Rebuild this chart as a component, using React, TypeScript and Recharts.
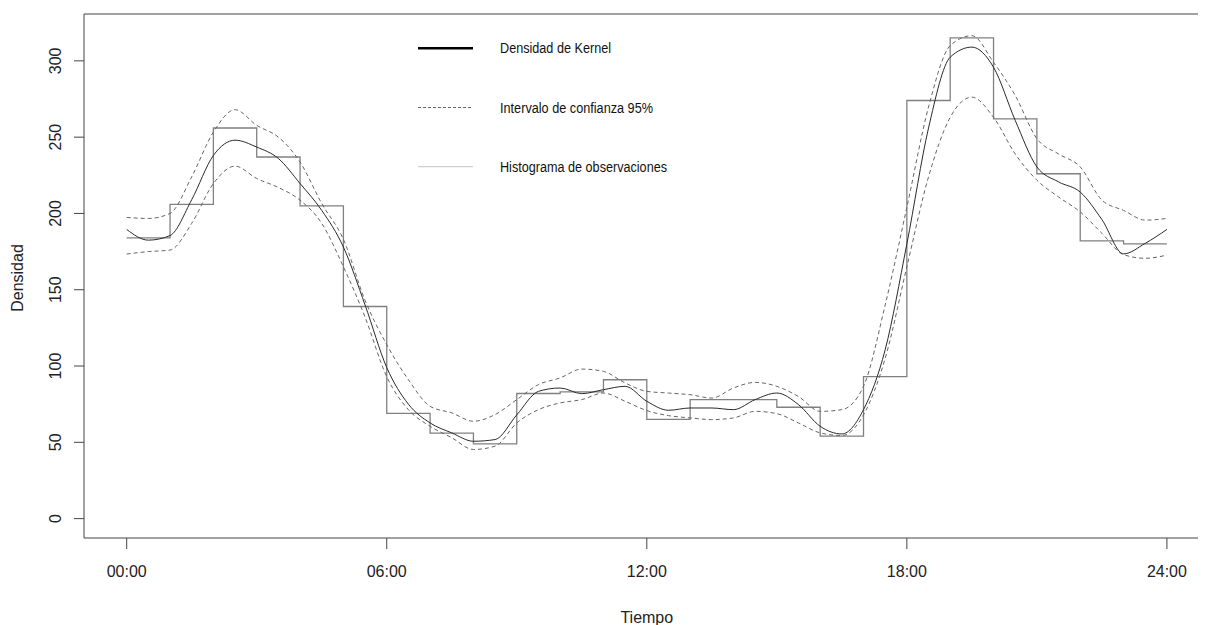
import { LineChart, Line, XAxis, YAxis, Label, ReferenceLine } from 'recharts';

// half-hour grid for the smoothed curves
const hours = [
  0, 0.5, 1, 1.5, 2, 2.5, 3, 3.5, 4, 4.5, 5, 5.5, 6, 6.5, 7, 7.5, 8, 8.5, 9, 9.5, 10, 10.5,
  11, 11.5, 12, 12.5, 13, 13.5, 14, 14.5, 15, 15.5, 16, 16.5, 17, 17.5, 18, 18.5, 19, 19.5,
  20, 20.5, 21, 21.5, 22, 22.5, 23, 23.5, 24,
];

const kernel = [
  189.5, 182.5, 185.5, 209, 238, 248, 243.5, 236, 219.6, 202, 178, 140, 99, 75, 62.7, 56.2,
  50.7, 51.8, 68, 83.4, 85.6, 81.9, 84.5, 86.7, 76.9, 71, 72.5, 72.5, 71.4, 78, 82.3, 74.7,
  60.5, 55.5, 71.4, 110.7, 180, 256, 302.4, 309, 295.8, 261, 230.5, 220.7, 214, 196, 173.5,
  180.4, 189.5,
];

const upper = [
  197.4, 196.7, 200, 224, 253.3, 268, 257.7, 250, 233.7, 206.5, 183, 143, 114, 91, 73.6, 69.3,
  63.8, 68.2, 78, 87.8, 92.2, 98, 96.5, 88.9, 83.4, 82.3, 81.2, 79, 85.6, 89.3, 86.7, 80, 70.3,
  71.4, 86.7, 140, 204, 269.7, 310, 316.5, 299, 277.3, 249, 239, 230.5, 208.7, 202, 195.6, 196.7,
];

const lower = [
  173.4, 175, 176, 193.5, 219.6, 231, 222.9, 217, 208.7, 193.5, 165, 132, 93, 71.4, 60.5, 53,
  45.3, 47.5, 62.7, 71.4, 75.8, 78, 82.3, 76.9, 70.8, 67.5, 66, 64.9, 66, 70.3, 68.8, 62.7, 56.2,
  54.5, 68, 105, 165, 224, 263, 276.2, 263, 239, 221.8, 210.8, 201, 187, 173, 170.6, 172.7,
];

// hourly histogram bins
const binStarts = [0, 1, 2, 3, 4, 5, 6, 7, 8, 9, 10, 11, 12, 13, 14, 15, 16, 17, 18, 19, 20, 21, 22, 23];
const binValues = [184, 206, 256, 237, 205, 139, 69, 56, 49, 82, 83, 91, 65, 78, 78, 73, 54, 93, 274, 315, 262, 226, 182, 180];

const xTicks = [0, 6, 12, 18, 24];
const yTicks = [0, 50, 100, 150, 200, 250, 300];
const xDomain = [-0.985, 24.985];
const yDomain = [-12.7, 330.7];

const legendItems = [
  { label: 'Densidad de Kernel', color: '#000', width: 2.5, dash: undefined, len: 111 },
  { label: 'Intervalo de confianza 95%', color: '#666', width: 1, dash: '3 2', len: 153 },
  { label: 'Histograma de observaciones', color: '#c4c4c4', width: 1, dash: undefined, len: 167 },
];

const curveData = hours.map((h, i) => ({ h, kernel: kernel[i], upper: upper[i], lower: lower[i] }));
const histData = [
  ...binStarts.map((h, i) => ({ h, count: binValues[i] })),
  { h: 24, count: binValues[binValues.length - 1] },
];

const fmtHour = (v: number) => `${String(v).padStart(2, '0')}:00`;
const font = '"Liberation Sans", Arial, sans-serif';

const YTick = (props: any) => {
  const { x, y, payload } = props;
  return (
    <text x={x} y={y} transform={`rotate(-90 ${x} ${y})`} textAnchor="middle" dy="0.36em"
      fontSize={16} fontFamily={font} fill="#222">
      {payload.value}
    </text>
  );
};

const LegendBox = () => (
  <svg width={320} height={170} style={{ position: 'absolute', left: 400, top: 25, pointerEvents: 'none' }}>
    {legendItems.map((it, i) => {
      const y = 15.3 + i * 59.2;
      return (
        <g key={it.label}>
          <line x1={10} x2={65} y1={y} y2={y} stroke={it.color} strokeWidth={it.width} strokeDasharray={it.dash} />
          <text x={92} y={y + 5} fontSize={14} fontFamily={font} fill="#111"
            textLength={it.len} lengthAdjust="spacingAndGlyphs">
            {it.label}
          </text>
        </g>
      );
    })}
  </svg>
);

export default function App() {
  return (
    <div style={{ position: 'relative', width: 1198, height: 617, overflow: 'hidden' }}>
      <LineChart width={1210} height={617} margin={{ top: 6, right: 8.4, left: 0, bottom: 0 }}>
        <XAxis
          dataKey="h" type="number" domain={xDomain} ticks={xTicks} tickFormatter={fmtHour}
          allowDataOverflow height={87} tickSize={11} tickMargin={17}
          axisLine={{ stroke: '#444' }} tickLine={{ stroke: '#444' }}
          tick={{ fontSize: 16, fontFamily: font, fill: '#222' }}
        >
          <Label value="Tiempo" position="insideBottom" offset={2}
            style={{ fontSize: 16, fontFamily: font, fill: '#222' }} />
        </XAxis>
        <YAxis
          type="number" domain={yDomain} ticks={yTicks} allowDataOverflow width={76}
          tickSize={10} tickMargin={19} tick={YTick}
          axisLine={{ stroke: '#444' }} tickLine={{ stroke: '#444' }}
        >
          <Label
            content={() => (
              <text x={9} y={270} transform="rotate(-90 9 270)" textAnchor="middle" dy="0.36em"
                fontSize={16} fontFamily={font} fill="#222">
                Densidad
              </text>
            )}
          />
        </YAxis>
        <ReferenceLine y={yDomain[1]} stroke="#444" ifOverflow="extendDomain" />
        <Line data={histData} dataKey="count" type="stepAfter" stroke="#808080" strokeWidth={1.3}
          dot={false} isAnimationActive={false} legendType="none" />
        <Line data={curveData} dataKey="upper" type="monotone" stroke="#666" strokeWidth={1}
          strokeDasharray="4 3" dot={false} isAnimationActive={false} legendType="none" />
        <Line data={curveData} dataKey="lower" type="monotone" stroke="#666" strokeWidth={1}
          strokeDasharray="4 3" dot={false} isAnimationActive={false} legendType="none" />
        <Line data={curveData} dataKey="kernel" type="monotone" stroke="#2a2a2a" strokeWidth={1}
          dot={false} isAnimationActive={false} legendType="none" />
      </LineChart>
      <LegendBox />
    </div>
  );
}
